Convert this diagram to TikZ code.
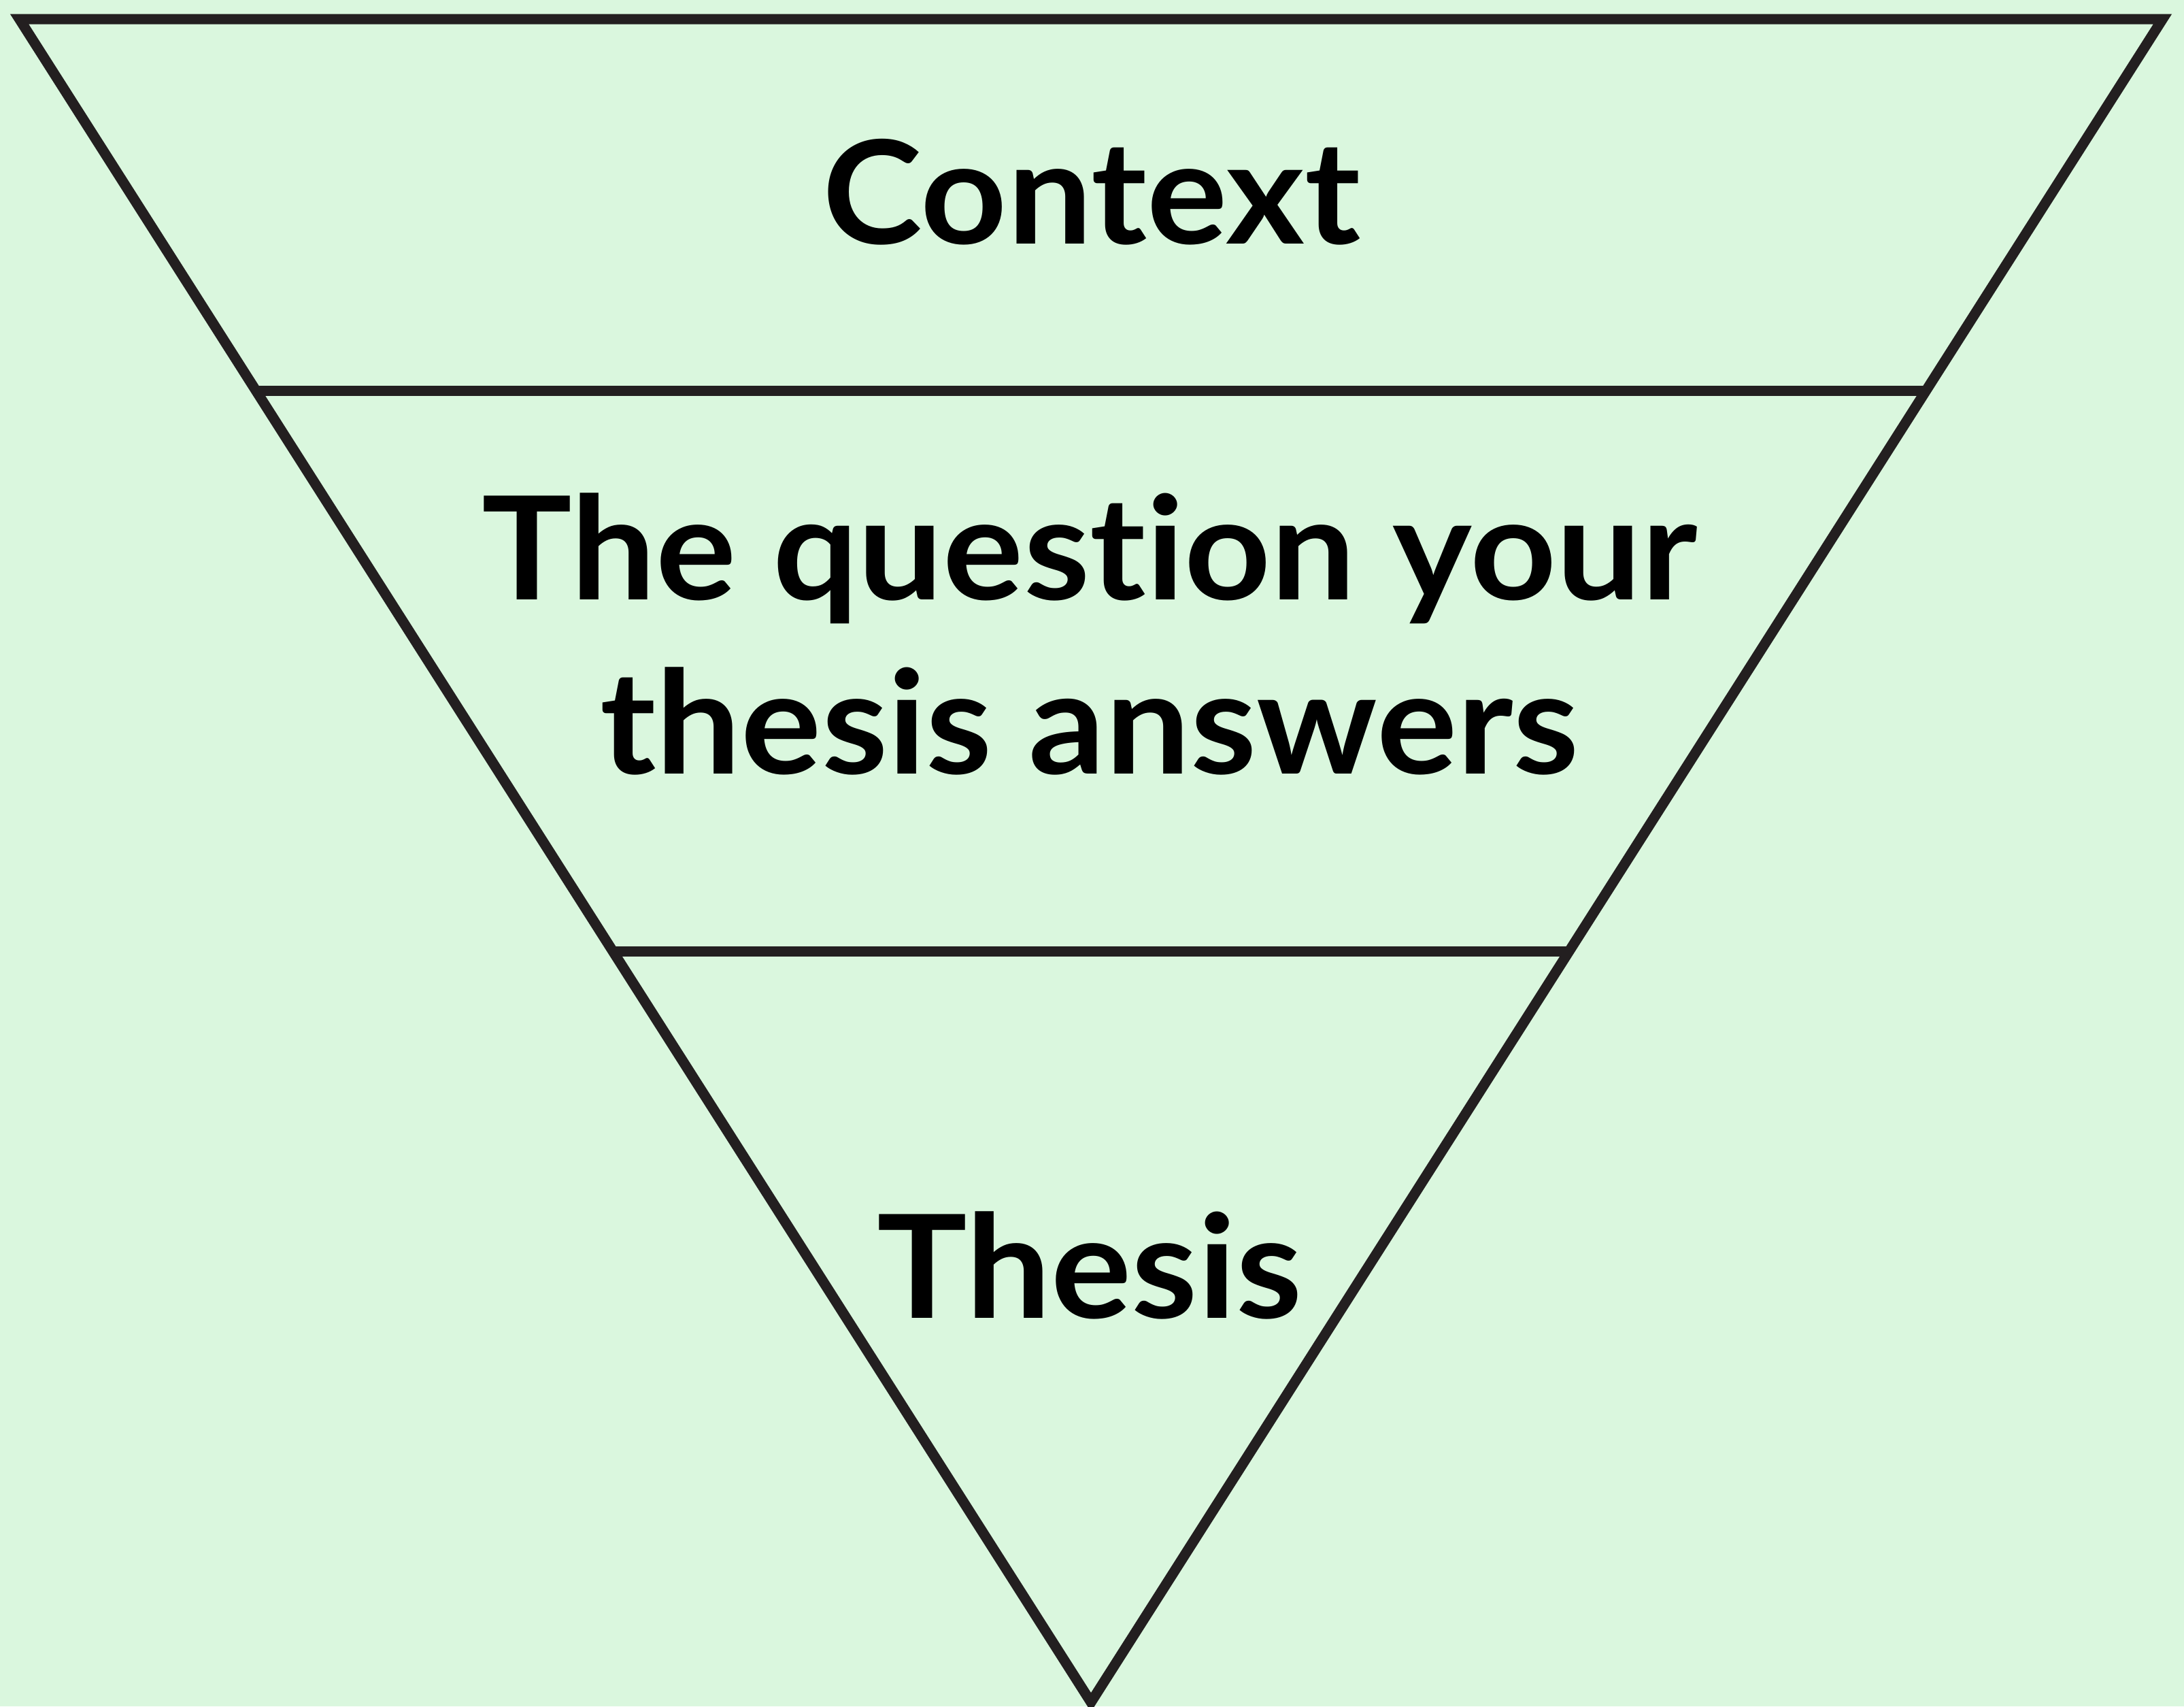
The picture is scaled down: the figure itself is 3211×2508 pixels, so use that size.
\documentclass[tikz,border=0pt]{standalone}
\usepackage{fontspec}
\setmainfont{Lato}[FakeStretch=1.05, Ligatures=NoCommon]
\usepackage{tikz}
\usetikzlibrary{calc}
\definecolor{funnelbg}{RGB}{218, 247, 222}
\definecolor{funnelink}{RGB}{35, 31, 32}
\tikzstyle{funnelline} = [draw=funnelink, line width=4.27pt, line join=miter]
\tikzstyle{tiertext} = [font=\fontsize{60}{72.8}\selectfont\bfseries, text=black, inner sep=0pt, anchor=base, align=center]

\begin{document}
\begin{tikzpicture}[x=0.01cm, y=-0.01cm]
    \fill [funnelbg] (0,0) rectangle (3211,2508);
    \useasboundingbox (0,0) rectangle (3211,2508);

    % funnel outline
    \coordinate (tl) at (28.5,28);
    \coordinate (tr) at (3179.5,28);
    \coordinate (apex) at (1604,2502);
    \draw [funnelline] (tl) -- (tr) -- (apex) -- cycle;

    % tier borders
    \coordinate (l1) at ($(tl)!0.2207!(apex)$);
    \coordinate (r1) at ($(tr)!0.2207!(apex)$);
    \coordinate (l2) at ($(tl)!0.5538!(apex)$);
    \coordinate (r2) at ($(tr)!0.5538!(apex)$);
    \draw [funnelline] (l1) -- (r1);
    \draw [funnelline] (l2) -- (r2);

    % base anchor of a two-line node sits on its last line
    \node (context) [tiertext] at (1605,358) {Context};
    \node (question) [tiertext] at (1602,1137) {The question your\\thesis answers};
    \node (thesis) [tiertext] at (1602,1937) {Thesis};
\end{tikzpicture}
\end{document}
